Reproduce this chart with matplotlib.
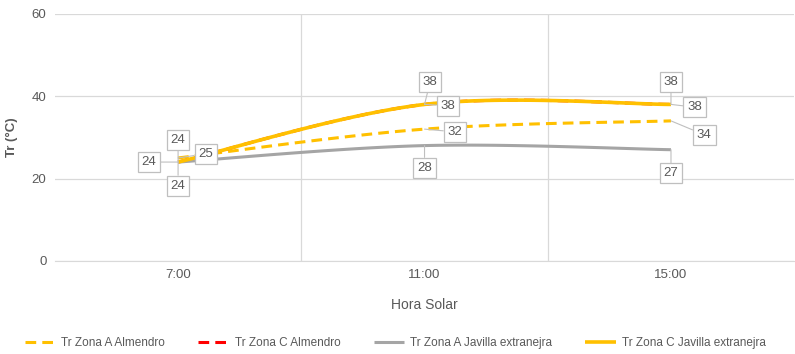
import numpy as np
import matplotlib
matplotlib.use("Agg")
import matplotlib.pyplot as plt

plt.rcParams['font.family'] = ['Liberation Sans', 'DejaVu Sans']

# data
horas = ["7:00", "11:00", "15:00"]
a_almendro = [25, 32, 34]
c_almendro = [24, 38, 38]
a_javilla = [24, 28, 27]
c_javilla = [24, 38, 38]

series_names = ["Tr Zona A Almendro", "Tr Zona C Almendro",
                "Tr Zona A Javilla extranejra", "Tr Zona C Javilla extranejra"]

GRAY_TXT = "#595959"


def smooth(xs, ys, n=40):
    # Excel-like smoothed line: cubic bezier with catmull-rom control points
    pts = np.column_stack([xs, ys]).astype(float)
    out = [pts[0]]
    for i in range(len(pts) - 1):
        p0 = pts[i - 1] if i > 0 else pts[i]
        p1, p2 = pts[i], pts[i + 1]
        p3 = pts[i + 2] if i + 2 < len(pts) else pts[i + 1]
        c1 = p1 + (p2 - p0) / 6
        c2 = p2 - (p3 - p1) / 6
        t = np.linspace(0, 1, n)[1:, None]
        seg = ((1 - t) ** 3) * p1 + 3 * ((1 - t) ** 2) * t * c1 + 3 * (1 - t) * t ** 2 * c2 + t ** 3 * p2
        out.extend(seg)
    out = np.array(out)
    return out[:, 0], out[:, 1]


fig = plt.figure(figsize=(7.95, 3.54), dpi=100)
ax = fig.add_axes([0.069, 0.263, 0.93, 0.698])

x = np.arange(len(horas))
styles = [
    (a_almendro, dict(color="#FFC000", lw=2.2, ls=(0, (3.5, 2)))),
    (c_almendro, dict(color="#FF0000", lw=2.2, ls=(0, (3.5, 2)))),
    (a_javilla, dict(color="#A5A5A5", lw=2.2, ls="-")),
    (c_javilla, dict(color="#FFC000", lw=2.6, ls="-")),
]
handles = []
for (vals, st), name in zip(styles, series_names):
    sx, sy = smooth(x, vals)
    h, = ax.plot(sx, sy, label=name, solid_capstyle="butt", **st)
    handles.append(h)

ax.set_xlim(-0.5, 2.5)
ax.set_ylim(0, 60)
ax.set_yticks([0, 20, 40, 60])
ax.set_xticks(x)
ax.set_xticklabels(horas)
ax.set_xticks([0.5, 1.5], minor=True)
ax.grid(True, axis="y", color="#D9D9D9", lw=0.9)
ax.grid(True, axis="x", which="minor", color="#D9D9D9", lw=0.9)
for s in ["top", "right", "left"]:
    ax.spines[s].set_visible(False)
ax.spines["bottom"].set_color("#D9D9D9")
ax.tick_params(axis="both", which="both", length=0, colors=GRAY_TXT, labelsize=9.5, pad=6)
ax.set_ylabel("Tr (°C)", fontsize=9.5, fontweight="bold", color=GRAY_TXT, labelpad=10)
ax.set_xlabel("Hora Solar", fontsize=10, color=GRAY_TXT, labelpad=12)

# data label offsets (points) per series and category
offsets = [
    [(20, 3), (22, -2), (24, -10)],
    [(0, 16), (4, 16), (0, 16)],
    [(0, -17), (0, -16), (0, -17)],
    [(-21, 0), (17, -1), (17, -2)],
]
for (vals, st), offs in zip(styles, offsets):
    for xi, v, off in zip(x, vals, offs):
        ax.annotate(str(v), xy=(xi, v), xytext=off, textcoords="offset points",
                    ha="center", va="center", fontsize=9.5, color=GRAY_TXT,
                    bbox=dict(boxstyle="square,pad=0.3", fc="white", ec="#BFBFBF", lw=0.9),
                    arrowprops=dict(arrowstyle="-", color="#BFBFBF", lw=0.8, shrinkA=0, shrinkB=0),
                    zorder=5)

fig.legend(handles=handles, loc="center", bbox_to_anchor=(0.497, 0.03), ncol=4, frameon=False,
           fontsize=8.5, labelcolor=GRAY_TXT, handlelength=2.6, columnspacing=2.8,
           handletextpad=0.5, borderpad=0.2)

fig.savefig("out.png", dpi=100)
